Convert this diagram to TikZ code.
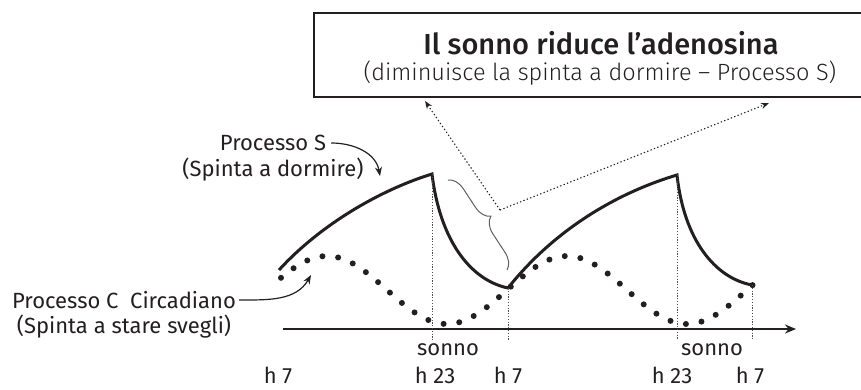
\documentclass[tikz,border=0pt]{standalone}
\usepackage{fontspec}
\setmainfont{Fira Sans}
\newfontfamily\titlefont{Fira Sans Medium}
\newfontfamily\lightfont{Fira Sans Light}
\usetikzlibrary{arrows.meta, positioning, calc, decorations.pathreplacing}
\definecolor{inkdark}{RGB}{35, 31, 32}
\definecolor{inkgray}{RGB}{95, 95, 95}

\begin{document}
\begin{tikzpicture}[
    x=1pt, y=-1pt,
    titlebox/.style={rectangle, draw=inkdark, line width=1.8pt, minimum width=572pt, minimum height=84pt, inner sep=0pt},
    label/.style={text=inkdark, font=\fontsize{22}{24}\selectfont, inner sep=0pt},
    curveS/.style={draw=inkdark, line width=3pt, line join=miter},
    curveC/.style={draw=inkdark, line width=6pt, line cap=round, dash pattern=on 0pt off 15.8pt},
    guide/.style={draw=inkdark!80, line width=1pt, dash pattern=on 1.2pt off 1.6pt},
    pointer/.style={draw=inkdark, line width=1.1pt, dash pattern=on 1.3pt off 2.3pt, -{Stealth[length=8pt, width=6pt]}},
    callout/.style={draw=inkdark, line width=1.2pt, -{Stealth[length=9pt, width=7pt]}},
    axis/.style={draw=inkdark, line width=2pt, -{Stealth[length=11pt, width=9pt]}},
    bracket/.style={draw=inkgray, line width=1pt, decorate, decoration={brace, amplitude=16pt}}
]
\useasboundingbox (0,0) rectangle (861,389);

% title box
\node[titlebox] (box) at (600,55) {};
\node[text=inkdark, font=\titlefont\fontsize{29}{31}\selectfont] (title) at (601,43) {Il sonno riduce l’adenosina};
\node[text=inkdark, font=\lightfont\fontsize{23.5}{25}\selectfont] (subtitle) at (600,73) {(diminuisce la spinta a dormire – Processo S)};

% process S
\coordinate (w1) at (279,270);
\coordinate (p1) at (432,174);
\coordinate (w2) at (508,288);
\coordinate (p2) at (677,175);
\coordinate (w3) at (752,285);
\draw[curveS] (w1) .. controls (320,225) and (380,190) .. (p1)
    .. controls (440,240) and (470,280) .. (w2)
    .. controls (550,235) and (610,195) .. (p2)
    .. controls (684,240) and (715,278) .. (w3);

% process C
\draw[curveC] plot[domain=281:753, samples=120] (\x, {290-34*cos(1.5*(\x-327))});

% time axis
\coordinate (axL) at (283,329);
\coordinate (axR) at (796,329);
\coordinate (gb) at (0,340);
\draw[axis] (axL) -- (axR);
\draw[guide] (p1) -- (p1 |- gb);
\draw[guide] (w2) -- (w2 |- gb);
\draw[guide] (p2) -- (p2 |- gb);
\draw[guide] (w3) -- (w3 |- gb);

\node[label] (sonno1) at (448,350) {sonno};
\node[label] (sonno2) at (712,350) {sonno};
\node[label] (h7a) at (278,375) {h 7};
\node[label] (h23a) at (435,375) {h 23};
\node[label] (h7b) at (508,375) {h 7};
\node[label] (h23b) at (672,375) {h 23};
\node[label] (h7c) at (750,375) {h 7};

% labels with callouts
\node[label] (procS) at (273,143) {Processo S};
\node[label] (procSsub) at (273,170) {(Spinta a dormire)};
\coordinate (sTip) at (380,176);
\draw[callout] ([xshift=5pt]procS.east) to[out=0, in=100] (sTip);

\node[label] (procC) at (124,300) {Processo C\ \ Circadiano};
\node[label] (procCsub) at (124,327) {(Spinta a stare svegli)};
\coordinate (cTip) at (311,275);
\draw[callout] ([xshift=3pt]procC.east) to[out=0, in=-120] (cTip);

% brace and pointers to the box
\coordinate (bA) at (448,180);
\coordinate (bB) at (507,270);
\draw[bracket] (bA) -- (bB);
\coordinate (brc) at (500,210);
\coordinate (tipL) at (425,101);
\coordinate (tipR) at (769,103);
\draw[pointer] (brc) -- (tipL);
\draw[pointer] (brc) -- (tipR);

\end{tikzpicture}
\end{document}
